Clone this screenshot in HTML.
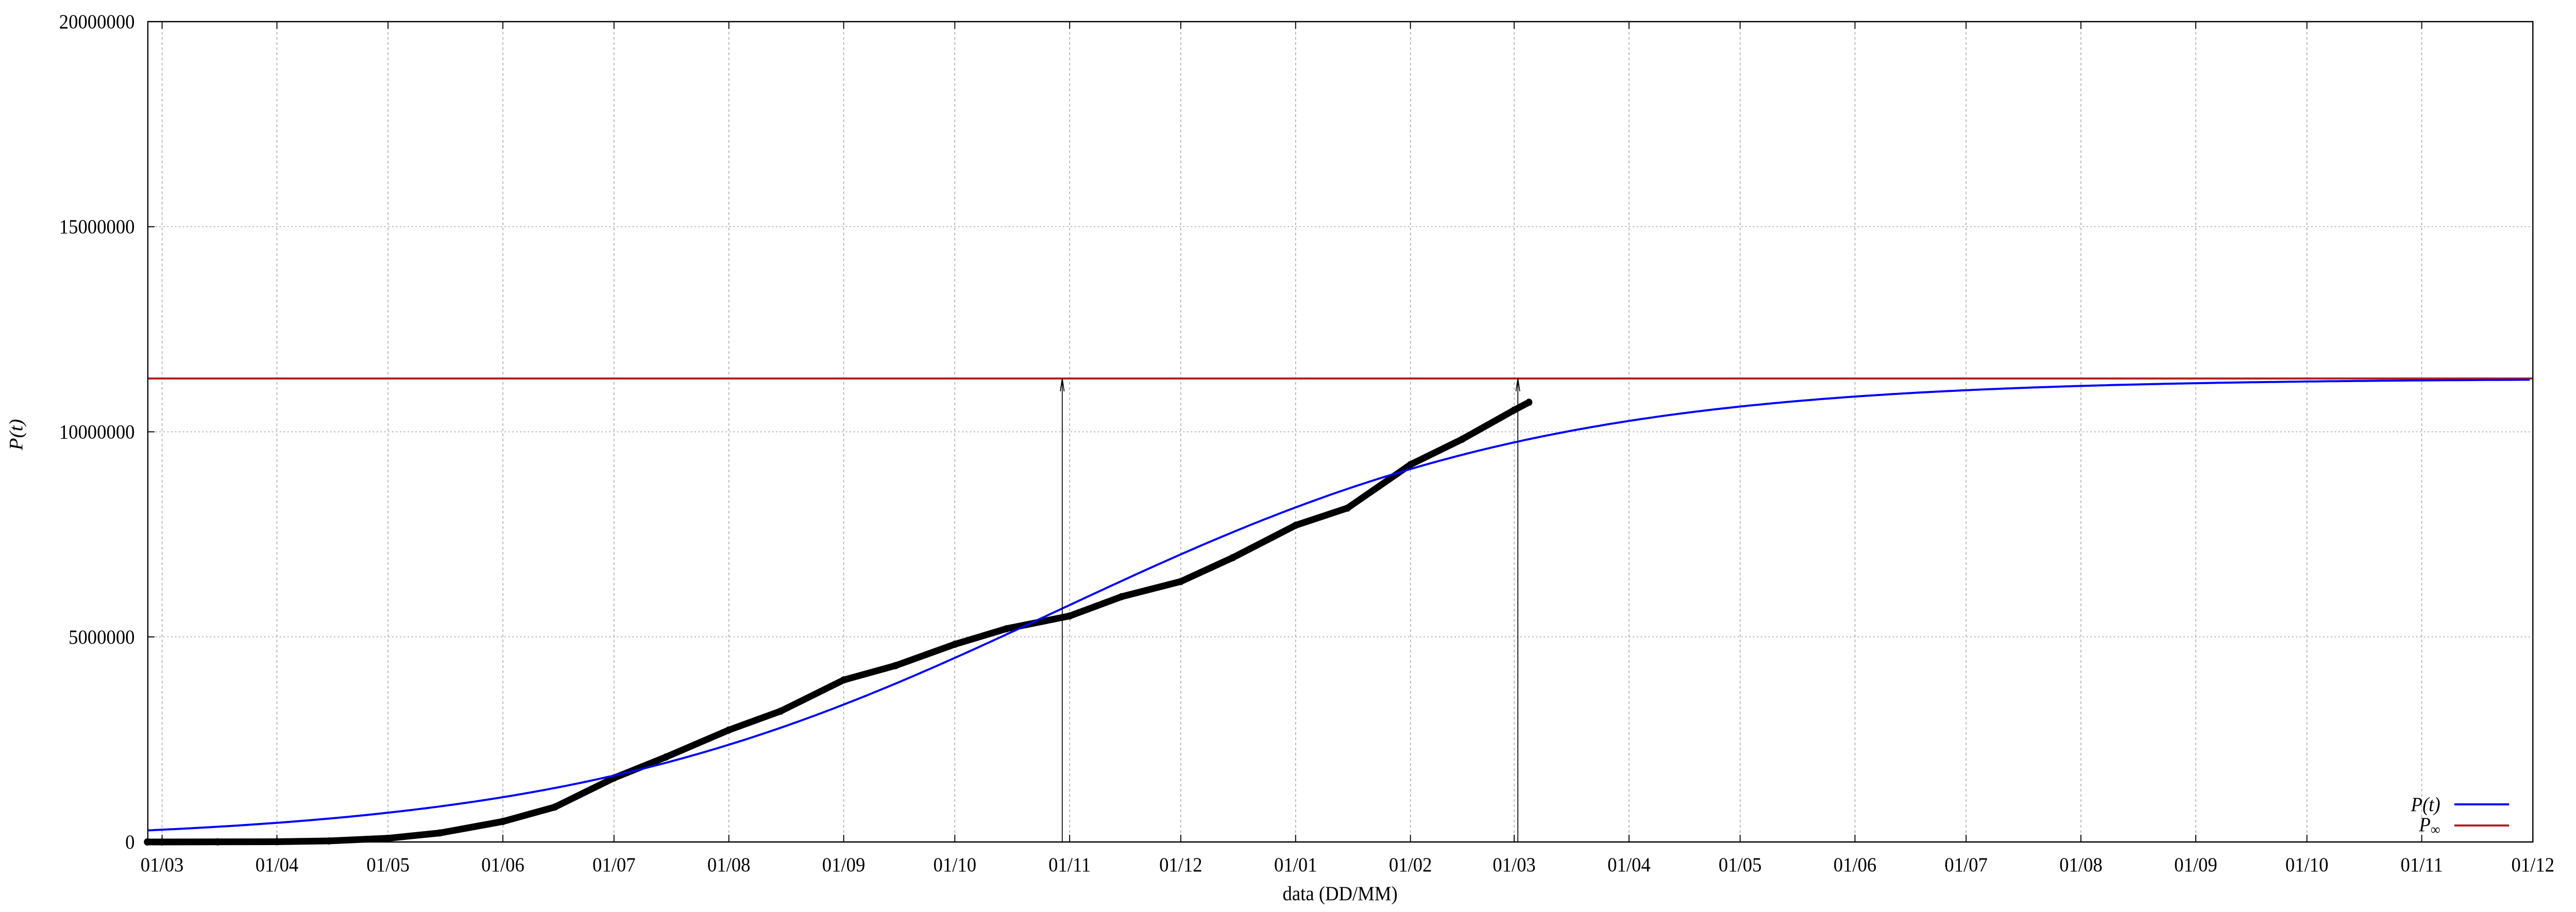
<!DOCTYPE html>
<html><head><meta charset="utf-8"><style>
html,body{margin:0;padding:0;background:#fff;width:100%;height:100%;overflow:hidden}
svg{display:block;width:100vw;height:100vh}
text{font-family:"Liberation Serif",serif;fill:#000}
</style></head><body>
<svg id="chart" viewBox="0 0 5315 1771" preserveAspectRatio="none" xmlns="http://www.w3.org/2000/svg">
<g id="grid"></g>
<g id="series"></g>
<g id="axes"></g>
<text x="2765" y="1748" font-size="39" text-anchor="middle">data (DD/MM)</text>
<text transform="translate(46,844) rotate(-90)" font-size="39" text-anchor="middle" font-style="italic">P(t)</text>
<g>
<text x="5035" y="1575" font-size="39" text-anchor="end" font-style="italic">P(t)</text>
<line x1="5064" y1="1562" x2="5177" y2="1562" stroke="#0000ff" stroke-width="4"/>
<text x="5035" y="1614" font-size="39" text-anchor="end"><tspan font-style="italic">P</tspan><tspan font-size="28" dy="6">∞</tspan></text>
<line x1="5064" y1="1603" x2="5177" y2="1603" stroke="#b22222" stroke-width="4"/>
</g>
</svg>
<script>
// ---- data ----
const xTickLabels = ["01/03","01/04","01/05","01/06","01/07","01/08","01/09","01/10","01/11","01/12","01/01","01/02","01/03","01/04","01/05","01/06","01/07","01/08","01/09","01/10","01/11","01/12"];
const xTickDays = [0,31,61,92,122,153,184,214,245,275,306,337,365,396,426,457,487,518,549,579,610,640]; // days since 01/03/2020
const yTicks = [0,5000000,10000000,15000000,20000000];
const dataDays = [-4,0,15,31,45,61,75,92,106,122,136,153,167,184,198,214,228,245,259,275,289,306,320,337,351,365,369];
const dataValues = [0,0,2000,6000,25000,90000,220000,500000,850000,1560000,2070000,2730000,3190000,3950000,4300000,4820000,5200000,5510000,5980000,6350000,6930000,7720000,8140000,9200000,9820000,10530000,10720000];
const modelPinf = [11300000];
const modelRate = [0.0149];
const modelMidDay = [242];
const arrowDays = [243,366];

// ---- axes ----
const L=305,R=5226,T=42,B=1635;
const dMin=-3.85, dMax=640;
const X=d=>L+(d-dMin)/(dMax-dMin)*(R-L);
const Y=v=>B-v/20000000*(B-T);
const NS="http://www.w3.org/2000/svg";
function mk(tag,attrs,parent){const e=document.createElementNS(NS,tag);for(const k in attrs)e.setAttribute(k,attrs[k]);parent.appendChild(e);return e;}
const grid=document.getElementById('grid'),axes=document.getElementById('axes'),series=document.getElementById('series');

xTickDays.forEach((d,i)=>{
  const x=X(d);
  const g=mk('line',{x1:x,y1:T,x2:x,y2:B,stroke:'#a0a0a0','stroke-width':1.5,'stroke-dasharray':'5,5'},grid);
  
  
  const t1=mk('line',{x1:x,y1:B,x2:x,y2:B-14,stroke:'#000','stroke-width':2},axes);
  
  
  const t2=mk('line',{x1:x,y1:T,x2:x,y2:T+14,stroke:'#000','stroke-width':2},axes);
  
  
  const lb=mk('text',{x:x,y:1692,'font-size':39,'text-anchor':'middle'},axes);
  lb.textContent=xTickLabels[i];
  
  
});
yTicks.forEach(v=>{
  const y=Y(v);
  if(v>0&&v<20000000){
    const g=mk('line',{x1:L,y1:y,x2:R,y2:y,stroke:'#a0a0a0','stroke-width':1.5,'stroke-dasharray':'3,5'},grid);
    
    
  }
  const t=mk('line',{x1:L,y1:y,x2:L+14,y2:y,stroke:'#000','stroke-width':2},axes);
  
  
  const lb=mk('text',{x:278,y:y+13,'font-size':39,'text-anchor':'end'},axes);
  lb.textContent=String(v);
  
  
});
const frame=mk('rect',{x:L,y:T,width:R-L,height:B-T,fill:'none',stroke:'#000','stroke-width':2.5},axes);



// ---- series ----
const pinf=mk('line',{x1:L,y1:Y(modelPinf[0]),x2:R,y2:Y(modelPinf[0]),stroke:'#b22222','stroke-width':4},series);



let dp='';
dataDays.forEach((d,i)=>{dp+=(i?'L':'M')+X(d).toFixed(1)+','+Y(dataValues[i]).toFixed(1);});
const dl=mk('path',{d:dp,fill:'none',stroke:'#000','stroke-width':13,'stroke-linejoin':'round','stroke-linecap':'round'},series);


dataDays.forEach((d,i)=>{
  const c=mk('circle',{cx:X(d),cy:Y(dataValues[i]),r:7,fill:'#000'},series);
  
  
});

let mp='';
for(let d=dMin;d<=dMax;d+=1){
  const v=modelPinf[0]/(1+Math.exp(-modelRate[0]*(d-modelMidDay[0])));
  mp+=(d===dMin?'M':'L')+X(d).toFixed(1)+','+Y(v).toFixed(1);
}
const ml=mk('path',{d:mp,fill:'none',stroke:'#0000ff','stroke-width':4},series);



arrowDays.forEach(d=>{
  const x=X(d), yt=Y(modelPinf[0]);
  const a=mk('path',{d:`M${x},${B}L${x},${yt}M${x-4},${yt+25}L${x},${yt}L${x+4},${yt+25}`,fill:'none',stroke:'#000','stroke-width':1.8},series);
  
  
});
</script>
</body></html>
